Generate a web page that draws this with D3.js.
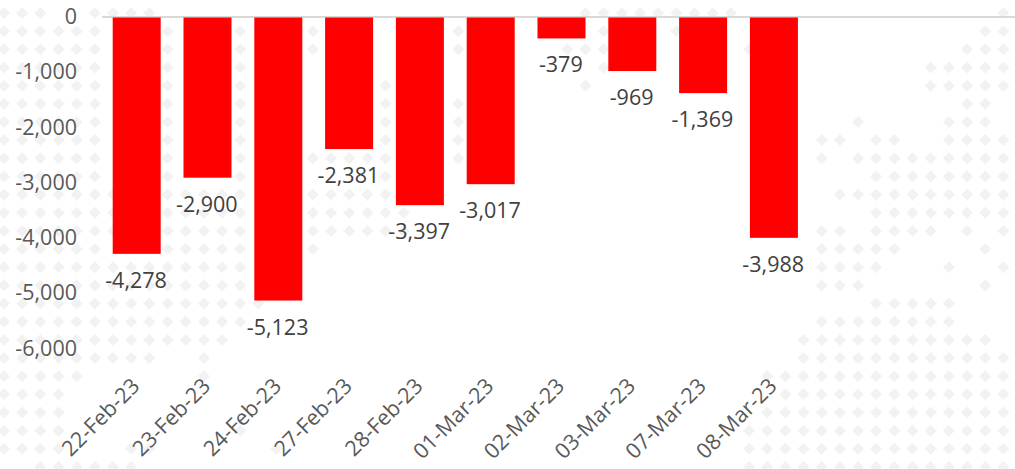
<!DOCTYPE html>
<html>
<head>
<meta charset="utf-8">
<script src="https://cdnjs.cloudflare.com/ajax/libs/d3/7.8.5/d3.min.js"></script>
<style>
html,body{margin:0;padding:0;background:#fff;overflow:hidden}
svg{display:block}
text{font-family:"Open Sans",sans-serif}
</style>
</head>
<body>
<svg id="chart" width="1015" height="469"></svg>
<script>
const categories = ["22-Feb-23","23-Feb-23","24-Feb-23","27-Feb-23","28-Feb-23","01-Mar-23","02-Mar-23","03-Mar-23","07-Mar-23","08-Mar-23"];
const values = [-4278,-2900,-5123,-2381,-3397,-3017,-379,-969,-1369,-3988];
const yTicks = [0,-1000,-2000,-3000,-4000,-5000,-6000];
// Decorative dotted-map backdrop: occupied grid columns for each row
const backdropRows = [
"0-2 5-8 32-40 55","0-5 9 13 17 25 33 37 54-55","0-5 9 13 17 25 31-33 41 53-55","0-5 9 13 33 51-55",
"0-5 9 13 21 32 51-55","0-5 9 13 21 25 53-54","0-5 9 13 21 25 47 52-54","0-5 9 13 21 25 45-46 48-49 52-55",
"0-5 9 13 17-21 25 45 47-55","0-5 9 13 21 48-55","0-13 17-21 46-55","0-13 17-22 48-55",
"0-13 17-22 45-46 48-51 53 55","0-5 9-13 17 45-49 54","0-13 45-48 52 55","0-13 45-47 54",
"0-14 48-52","0-13 45-52","0-12 44-54","0-8 11 44-55",
"0-4 11 42-55","0-3 43-55","0-3 42-55","0-3 13 41-55",
"0-3 7-8 15 41-55","2-7 41-55"];

const svg = d3.select("#chart");
const fmt = d3.formatLocale({decimal:".",thousands:",",grouping:[3],currency:["$",""],minus:"-"}).format(",");

// backdrop
const gx = d3.scaleLinear().domain([0,55]).range([4,1003.4]);
const gy = d3.scaleLinear().domain([0,25]).range([13,467]);
const dots = backdropRows.flatMap((row,r)=>row.split(" ").flatMap(part=>{
  const [a,b] = part.split("-").map(Number);
  return d3.range(a,(b===undefined?a:b)+1).map(c=>({r,c}));
}));
svg.append("g").selectAll("path").data(dots).join("path")
  .attr("d",d3.symbol(d3.symbolSquare,72))
  .attr("transform",d=>`translate(${gx(d.c)},${gy(d.r)}) rotate(45)`)
  .attr("fill","#f2f2f2");

// scales
const x = d3.scaleBand().domain(categories).range([101.3,809.3]).paddingInner(0.322).paddingOuter(0.161);
const y = d3.scaleLinear().domain([0,-6000]).range([17.5,349]);

// zero line
svg.append("line").attr("x1",102).attr("x2",1015).attr("y1",y(0)-0.5).attr("y2",y(0)-0.5)
  .attr("stroke","#d9d9d9").attr("stroke-width",2);

// bars
svg.append("g").selectAll("rect").data(values).join("rect")
  .attr("x",(d,i)=>x(categories[i])).attr("width",x.bandwidth())
  .attr("y",y(0)).attr("height",d=>y(d)-y(0)).attr("fill","#ff0000");

// y axis
const yAxis = svg.append("g").attr("transform","translate(83,-0.8)")
  .call(d3.axisLeft(y).tickValues(yTicks).tickFormat(fmt).tickSize(0).tickPadding(6));
yAxis.select(".domain").remove();
yAxis.selectAll("text").attr("fill","#595959").style("font-size","21.5px").style("font-family",'"Open Sans",sans-serif');

// x axis
const xAxis = svg.append("g").attr("transform","translate(0,372)")
  .call(d3.axisBottom(x).tickSize(0));
xAxis.select(".domain").remove();
xAxis.selectAll("text")
  .attr("fill","#595959").style("font-size","21.5px").style("font-family",'"Open Sans",sans-serif')
  .attr("text-anchor","end").attr("x",0).attr("y",0).attr("dy","0.35em")
  .attr("transform","translate(-1,10) rotate(-45)");

// data labels
svg.append("g").selectAll("text").data(values).join("text")
  .attr("x",(d,i)=>x(categories[i])+x.bandwidth()/2-0.7)
  .attr("y",d=>y(d)+26.5).attr("dy","0.35em").attr("text-anchor","middle")
  .attr("fill","#404040").style("font-size","21.5px").text(d=>fmt(d));
</script>
</body>
</html>
